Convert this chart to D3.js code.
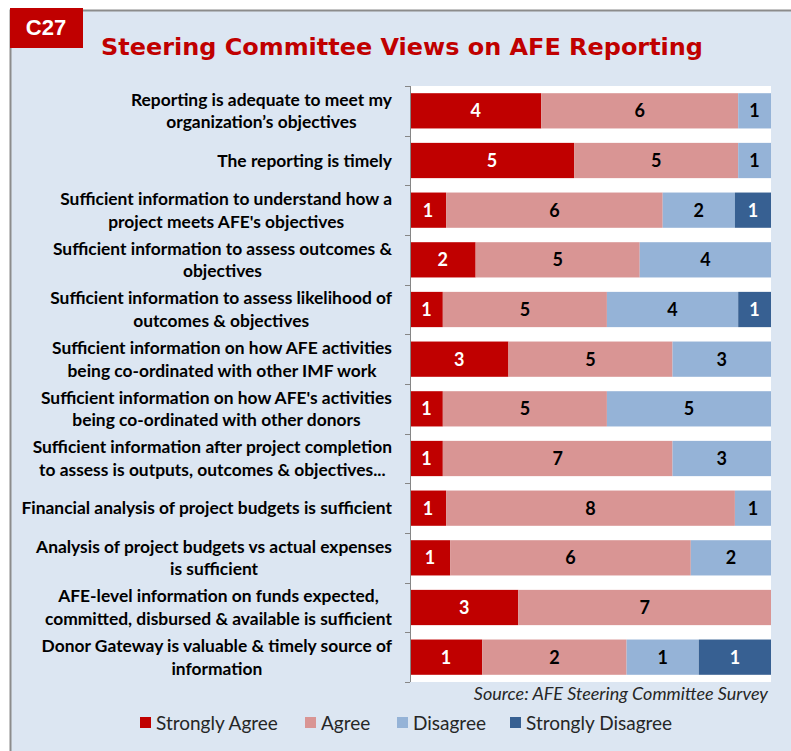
<!DOCTYPE html>
<html>
<head>
<meta charset="utf-8">
<script src="https://cdn.jsdelivr.net/npm/d3@7"></script>
<style>
  body { margin: 0; background: #fff; }
  svg { display: block; }
</style>
</head>
<body>
<svg id="chart" width="791" height="751"></svg>
<script>
// survey statements, top to bottom (each line of a wrapped label)
const questions = [
  ["Reporting is adequate to meet my", "organization\u2019s objectives"],
  ["The reporting is timely"],
  ["Sufficient information to understand how a", "project  meets AFE's objectives"],
  ["Sufficient information to assess outcomes &", "objectives"],
  ["Sufficient information to assess likelihood of", "outcomes & objectives"],
  ["Sufficient information on how AFE activities", "being co-ordinated with other IMF work"],
  ["Sufficient information on how AFE's activities", "being co-ordinated with other donors"],
  ["Sufficient information after project completion", "to assess is outputs, outcomes & objectives..."],
  ["Financial analysis of project budgets is sufficient"],
  ["Analysis of project budgets vs actual expenses", "is sufficient"],
  ["AFE-level information on funds expected,", "committed, disbursed & available is sufficient"],
  ["Donor Gateway is valuable & timely source of", "information"]
];

const responses = ["Strongly Agree", "Agree", "Disagree", "Strongly Disagree"];

const stronglyAgree    = [4, 5, 1, 2, 1, 3, 1, 1, 1, 1, 3, 1];
const agree            = [6, 5, 6, 5, 5, 5, 5, 7, 8, 6, 7, 2];
const disagree         = [1, 1, 2, 4, 4, 3, 5, 3, 1, 2, 0, 1];
const stronglyDisagree = [0, 0, 1, 0, 1, 0, 0, 0, 0, 0, 0, 1];

const colors = ["#c00000", "#d99594", "#95b3d7", "#376092"];
const textColors = ["#ffffff", "#000000", "#000000", "#ffffff"];

// build rows for d3.stack (normalized to 100%)
let data = questions.map(function(q, i) {
  let row = { id: i };
  row[responses[0]] = stronglyAgree[i];
  row[responses[1]] = agree[i];
  row[responses[2]] = disagree[i];
  row[responses[3]] = stronglyDisagree[i];
  return row;
});

let stacked = d3.stack()
  .keys(responses)
  .offset(d3.stackOffsetExpand)(data);

const svg = d3.select("#chart");

// frame background
svg.append("rect")
  .attr("x", 10).attr("y", 10)
  .attr("width", 781).attr("height", 741)
  .attr("fill", "#dce6f2");
svg.append("path")
  .attr("d", "M10.5,751 V10.5 H791")
  .attr("fill", "none")
  .attr("stroke", "#8c8c8c")
  .attr("stroke-width", 2);

// badge
svg.append("rect")
  .attr("x", 10).attr("y", 8)
  .attr("width", 73).attr("height", 40)
  .attr("fill", "#c00000");
svg.append("text")
  .attr("x", 46).attr("y", 35)
  .attr("text-anchor", "middle")
  .attr("fill", "#fff")
  .style("font-family", "'Liberation Sans', Arial, sans-serif")
  .style("font-weight", "bold")
  .style("font-size", "22px")
  .text("C27");

// title
svg.append("text")
  .attr("x", 101).attr("y", 55)
  .attr("fill", "#c00000")
  .style("font-family", "'DejaVu Sans', Verdana, sans-serif")
  .style("font-weight", "bold")
  .style("font-size", "23px")
  .attr("textLength", 602)
  .attr("lengthAdjust", "spacingAndGlyphs")
  .text("Steering Committee Views on AFE Reporting");

// plot area
const plotLeft = 410, plotRight = 771, plotTop = 86, plotBottom = 682;

svg.append("rect")
  .attr("x", plotLeft).attr("y", plotTop)
  .attr("width", plotRight - plotLeft).attr("height", plotBottom - plotTop)
  .attr("fill", "#fff");

let x = d3.scaleLinear().domain([0, 1]).range([plotLeft, plotRight]);
let y = d3.scaleBand()
  .domain(d3.range(questions.length))
  .range([plotTop, plotBottom])
  .paddingInner(0.29)
  .paddingOuter(0.145);

// bars
let groups = svg.append("g")
  .selectAll("g")
  .data(stacked)
  .enter().append("g")
  .attr("fill", function(d, i) { return colors[i]; });

groups.selectAll("rect")
  .data(function(d) { return d; })
  .enter().append("rect")
  .attr("x", function(d) { return x(d[0]); })
  .attr("y", function(d) { return y(d.data.id); })
  .attr("width", function(d) { return x(d[1]) - x(d[0]); })
  .attr("height", y.bandwidth());

// value labels
groups.each(function(s, si) {
  d3.select(this).selectAll("text")
    .data(s.filter(function(d) { return d.data[s.key] > 0; }))
    .enter().append("text")
    .attr("x", function(d) { return (x(d[0]) + x(d[1])) / 2; })
    .attr("y", function(d) { return y(d.data.id) + y.bandwidth() / 2; })
    .attr("dy", "0.36em")
    .attr("text-anchor", "middle")
    .attr("fill", textColors[si])
    .style("font-family", "Lato, 'Open Sans', sans-serif")
    .style("font-weight", "bold")
    .style("font-size", "18px")
    .text(function(d) { return d.data[s.key]; });
});

// category axis: line + ticks at band edges
let edges = d3.range(questions.length + 1).map(function(i) {
  return plotTop + i * (plotBottom - plotTop) / questions.length;
});
svg.append("line")
  .attr("x1", plotLeft + 0.5).attr("x2", plotLeft + 0.5)
  .attr("y1", plotTop).attr("y2", plotBottom)
  .attr("stroke", "#868686");
svg.append("g")
  .selectAll("line")
  .data(edges)
  .enter().append("line")
  .attr("x1", plotLeft - 5).attr("x2", plotLeft)
  .attr("y1", function(d) { return Math.round(d) + 0.5; })
  .attr("y2", function(d) { return Math.round(d) + 0.5; })
  .attr("stroke", "#868686");

// question labels (centered block, right edge at 392)
let labels = svg.append("g")
  .style("font-family", "Lato, 'Open Sans', sans-serif")
  .style("font-weight", "bold")
  .style("font-size", "17.4px")
  .style("white-space", "pre")
  .attr("fill", "#000");

questions.forEach(function(lines, i) {
  let cy = y(i) + y.bandwidth() / 2;
  let g = labels.append("g");
  let texts = lines.map(function(line, j) {
    return g.append("text")
      .attr("text-anchor", "middle")
      .attr("y", cy + (j - (lines.length - 1) / 2) * 22.5)
      .attr("dy", "0.35em")
      .text(line);
  });
  let maxW = d3.max(texts, function(t) { return t.node().getComputedTextLength(); });
  texts.forEach(function(t) { t.attr("x", 392 - maxW / 2); });
});

// source note
svg.append("text")
  .attr("x", 768).attr("y", 700)
  .attr("text-anchor", "end")
  .attr("fill", "#262626")
  .style("font-family", "Lato, 'Open Sans', sans-serif")
  .style("font-style", "italic")
  .style("font-size", "18px")
  .text("Source: AFE Steering Committee Survey");

// legend
const legendX = [140, 305, 397, 510];
let legend = svg.append("g")
  .selectAll("g")
  .data(responses)
  .enter().append("g")
  .attr("transform", function(d, i) { return "translate(" + legendX[i] + ",717)"; });
legend.append("rect")
  .attr("width", 11).attr("height", 11)
  .attr("fill", function(d, i) { return colors[i]; });
legend.append("text")
  .attr("x", 16).attr("y", 6)
  .attr("dy", "0.36em")
  .attr("fill", "#262626")
  .style("font-family", "Lato, 'Open Sans', sans-serif")
  .style("font-size", "19px")
  .text(function(d) { return d; });
</script>
</body>
</html>
